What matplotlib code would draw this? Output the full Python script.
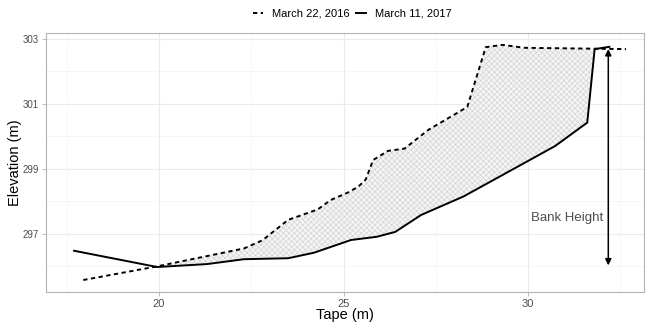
import numpy as np
import matplotlib.pyplot as plt
from matplotlib.lines import Line2D

plt.rcParams['font.family'] = ['Liberation Sans', 'DejaVu Sans']

# profil 2016 (pointillé)
tape_2016 = [17.95, 19.95, 22.3, 22.8, 23.5, 24.3, 24.65, 25.1, 25.4, 25.6, 25.8,
             26.2, 26.65, 27.3, 28.35, 28.85, 29.3, 29.9, 32.65]
elev_2016 = [295.58, 296.0, 296.55, 296.8, 297.43, 297.75, 298.04, 298.26, 298.45,
             298.67, 299.27, 299.55, 299.62, 300.2, 300.9, 302.74, 302.81, 302.72, 302.68]

# profil 2017 (trait plein)
tape_2017 = [17.7, 19.95, 21.3, 22.3, 23.5, 24.2, 25.2, 25.9, 26.4, 27.1, 28.25,
             30.73, 31.6, 31.8, 32.2]
elev_2017 = [296.48, 295.98, 296.07, 296.22, 296.25, 296.42, 296.81, 296.91, 297.06,
             297.58, 298.15, 299.7, 300.42, 302.68, 302.75]

labels = ['March 22, 2016', 'March 11, 2017']
bank_x = 32.17
bank_top, bank_bottom = 302.68, 296.03

grey_txt = '#4d4d4d'

fig = plt.figure(figsize=(6.48, 3.22), dpi=100)
ax = fig.add_axes([0.071, 0.093, 0.923, 0.805])

# zone érodée entre les deux profils
xs = np.linspace(19.95, 31.8, 400)
top = np.interp(xs, tape_2016, elev_2016)
bot = np.interp(xs, tape_2017, elev_2017)
plt.rcParams['hatch.color'] = '#c8c8c8'
plt.rcParams['hatch.linewidth'] = 0.4
ax.fill_between(xs, bot, top, facecolor='#f4f4f4', edgecolor='#cfcfcf',
                hatch='xxxxxx', linewidth=0, zorder=1)

ax.plot(tape_2016, elev_2016, color='black', lw=1.4, ls=(0, (2.2, 1.8)), zorder=3)
ax.plot(tape_2017, elev_2017, color='black', lw=1.4, zorder=3)

# flèche hauteur de berge
ax.annotate('', xy=(bank_x, bank_bottom), xytext=(bank_x, bank_top),
            arrowprops=dict(arrowstyle='<|-|>', color='black', lw=1.1,
                            mutation_scale=9, shrinkA=0, shrinkB=0), zorder=4)
ax.text(31.05, 297.49, 'Bank Height', ha='center', va='center',
        fontsize=9.5, color=grey_txt)

ax.set_xlim(16.94, 33.14)
ax.set_ylim(295.21, 303.18)
ax.set_xticks([20, 25, 30])
ax.set_xticks([17.5, 22.5, 27.5, 32.5], minor=True)
ax.set_yticks([297, 299, 301, 303])
ax.set_yticks([296, 298, 300, 302], minor=True)
ax.grid(which='major', color='#ebebeb', lw=0.8, zorder=0)
ax.grid(which='minor', color='#f3f3f3', lw=0.5, zorder=0)
ax.set_axisbelow(True)
ax.tick_params(which='major', length=3, width=0.6, color='#b3b3b3',
               labelcolor=grey_txt, pad=2)
ax.tick_params(axis='x', which='major', labelsize=8)
ax.tick_params(axis='y', which='major', labelsize=7)
ax.tick_params(which='minor', length=0)
for s in ax.spines.values():
    s.set_color('#b3b3b3')
    s.set_linewidth(0.8)

ax.set_xlabel('Tape (m)', fontsize=10.5)
ax.set_ylabel('Elevation (m)', fontsize=10.5)
ax.xaxis.set_label_coords(0.5, -0.062)
ax.yaxis.set_label_coords(-0.040, 0.5)

handles = [Line2D([], [], color='black', lw=1.4, ls=(0, (2.2, 1.8))),
           Line2D([], [], color='black', lw=1.4)]
fig.legend(handles, labels, loc='center', bbox_to_anchor=(352 / 648, 1 - 14 / 322),
           ncol=2, frameon=False, fontsize=8, handlelength=0.9,
           columnspacing=0.6, handletextpad=0.8)

fig.savefig('out.png', dpi=100)
